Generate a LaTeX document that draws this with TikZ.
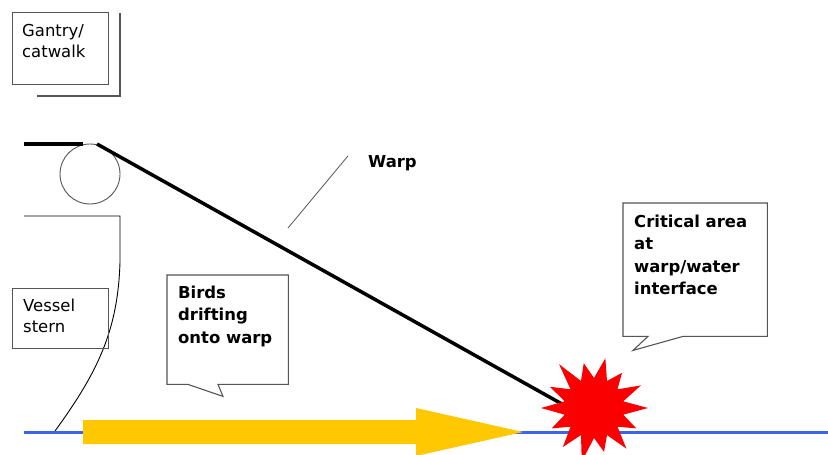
\documentclass[tikz,border=0pt]{standalone}
\usepackage{fontspec}
\setmainfont{DejaVu Sans}
\definecolor{sketchgrey}{RGB}{85,85,85}
\definecolor{seablue}{RGB}{60,100,235}
\definecolor{driftyellow}{RGB}{255,200,0}
\definecolor{hotred}{RGB}{250,0,0}
\usetikzlibrary{positioning,calc}

\begin{document}
\begin{tikzpicture}[x=1bp, y=-1bp,
  note/.style={font=\fontsize{16.5}{21}\selectfont, align=left, inner sep=0pt, anchor=north west},
  boldnote/.style={note, font=\fontsize{16.5}{22.5}\selectfont\bfseries},
  frame/.style={draw=sketchgrey, line width=1.1bp},
  callout/.style={draw=sketchgrey, line width=1.1bp, fill=white, line join=miter}]
  \useasboundingbox (0,0) rectangle (828,455);

  %% Gantry and pulley
  \node[frame, anchor=north west, minimum width=96bp, minimum height=72bp, inner sep=0pt] (gantrybox) at (12,12) {};
  \draw[frame] (120,13) |- (37,96);
  \node[note] (gantry) at (22,24) {Gantry/\\catwalk};
  \node[circle, draw=sketchgrey, line width=0.9bp, minimum size=60bp, inner sep=0pt] (pulley) at (90,174) {};
  \coordinate (deck) at (24,144);
  \coordinate (sheavein) at ([xshift=-7bp]pulley.north);
  \coordinate (sheaveout) at ([xshift=7bp]pulley.north);
  \draw[line width=3.5bp] (deck) -- (deck -| sheavein);

  %% Stern
  \coordinate (sternfoot) at (55,431);
  \draw[line width=0.9bp] (24,216) -- (120,216) -- (120,262) .. controls (118,330) and (98,372) .. (sternfoot);
  \node[frame, anchor=north west, minimum width=96bp, minimum height=60bp, inner sep=0pt] (sternbox) at (12,288) {};
  \node[note] (stern) at (23,298.5) {Vessel\\stern};

  %% Water and drift
  \draw[seablue, line width=3bp] (24,432) -- (828,432);
  \fill[driftyellow] (83,420) -- (416,420) -- (416,408) -- (523,432) -- (416,456) -- (416,444) -- (83,444) -- cycle;

  %% Warp
  \coordinate (entry) at (612,432);
  \draw[line width=3.5bp] (deck -| sheaveout) -- (entry);
  \node[boldnote] (warplbl) at (368,155) {Warp};
  \coordinate (warptick) at (288,228);
  \draw[sketchgrey, line width=0.8bp] (warptick) -- ($(warplbl.west)+(-20,-7)$);

  %% Burst at the interface
  \fill[hotred, shift={(594,408)}] (0:54)
    \foreach \r [count=\k] in {47,52,45,55,50,47,53,49,56,46,51,45,52} { -- ({\k*25.714-12.857}:30) -- ({\k*25.714}:\r) }
    -- (-12.857:30) -- cycle;

  %% Callouts
  \node[anchor=north west, minimum width=121bp, minimum height=109bp, inner sep=0pt] (birdsbox) at (167,275) {};
  \draw[callout] (birdsbox.north west) -- (birdsbox.north east) -- (birdsbox.south east)
    -- ([xshift=51bp]birdsbox.south west) -- ++(5,12) -- ([xshift=21bp]birdsbox.south west)
    -- (birdsbox.south west) -- cycle;
  \node[boldnote] (birds) at (178,285.5) {Birds\\drifting\\onto warp};

  \node[anchor=north west, minimum width=144bp, minimum height=133bp, inner sep=0pt] (critbox) at (623,203) {};
  \draw[callout] (critbox.north west) -- (critbox.north east) -- (critbox.south east)
    -- ([xshift=60bp]critbox.south west) -- ++(-50,14) -- ([xshift=25bp]critbox.south west)
    -- (critbox.south west) -- cycle;
  \node[boldnote] (critical) at (634,214.5) {Critical area\\at\\warp/water\\interface};
\end{tikzpicture}
\end{document}
